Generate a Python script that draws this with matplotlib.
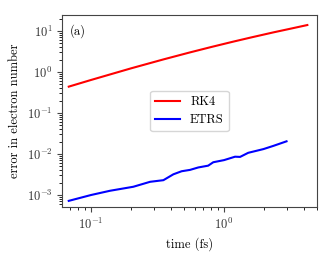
import matplotlib
matplotlib.use("Agg")
import matplotlib.pyplot as plt
import numpy as np

plt.rcParams['font.family'] = 'serif'
plt.rcParams['font.serif'] = ['cmr10', 'DejaVu Serif']
plt.rcParams['mathtext.fontset'] = 'cm'
plt.rcParams['axes.formatter.use_mathtext'] = True
plt.rcParams['font.size'] = 9

rk4_t = [0.068, 0.1, 0.2, 0.35, 0.55, 0.8, 1.17, 1.6, 2.35, 3.2, 4.23]
rk4_err = [0.44, 0.64, 1.23, 2.03, 2.99, 4.07, 5.5, 6.98, 9.27, 11.5, 14.0]

etrs_t = [0.068, 0.1, 0.139, 0.208, 0.278, 0.35, 0.416, 0.48, 0.555, 0.64, 0.76,
          0.83, 1.0, 1.21, 1.32, 1.52, 1.98, 2.35, 2.95]
etrs_err = [7.2e-4, 1.0e-3, 1.27e-3, 1.59e-3, 2.1e-3, 2.3e-3, 3.2e-3, 3.8e-3,
            4.1e-3, 4.7e-3, 5.2e-3, 6.3e-3, 7.1e-3, 8.6e-3, 8.5e-3, 1.07e-2,
            1.32e-2, 1.58e-2, 2.04e-2]

fig = plt.figure(figsize=(3.33, 2.56), dpi=100)
ax = fig.add_axes([62/333, 1-207/256, (317-62)/333, (207-15)/256])
ax.loglog(rk4_t, rk4_err, color='red', lw=1.5, label='RK4')
ax.loglog(etrs_t, etrs_err, color='blue', lw=1.5, label='ETRS')
ax.set_xlim(0.0605, 5.0)
ax.set_ylim(5.1e-4, 24.6)
ax.set_xlabel('time (fs)')
ax.set_ylabel('error in electron number')
ax.text(0.03, 0.95, '(a)', transform=ax.transAxes, va='top', ha='left')
for s in ax.spines.values():
    s.set_color('#444444')
ax.tick_params(colors='#444444', labelcolor='#333333')
ax.legend(loc='center', fontsize=9)
fig.savefig('out.png', dpi=100)
